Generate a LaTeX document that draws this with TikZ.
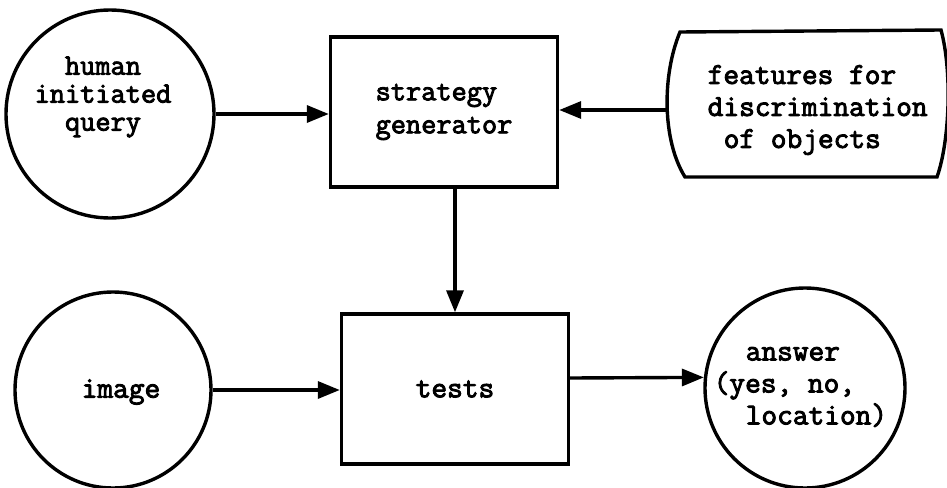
\documentclass[tikz,border=0pt]{standalone}
\usepackage{fontspec}
\newfontfamily\typew{Latin Modern Mono}[FakeBold=3]
\usetikzlibrary{arrows.meta}
\begin{document}
\begin{tikzpicture}[x=1pt,y=-1pt,
  line width=3.4pt,
  txt/.style={font=\fontsize{30.5}{32}\selectfont\typew, inner sep=0pt},
  circ/.style={draw, circle, inner sep=0pt},
  box/.style={draw, rectangle, inner sep=0pt, minimum width=227pt, minimum height=150pt},
  flow/.style={-{Triangle[length=22pt,width=17pt]}}]
\useasboundingbox (0,0) rectangle (947,487);

% sources, processes and result
\node[circ, minimum size=208pt] (hq) at (110,114) {};
\node[txt, align=center, font=\fontsize{29.5}{28}\selectfont\typew] (hqtxt) at (103,97) {human\\initiated\\query};

\node[box, txt, align=left, font=\fontsize{29.5}{33}\selectfont\typew] (sg) at (444,112) {strategy\\generator};

% feature store with bulging sides
\draw (680,32) -- (941,30)
      .. controls (952,70) and (950,140) .. (937,177)
      -- (685,177)
      .. controls (662,140) and (662,75) .. cycle;
\coordinate (featL) at (666,110);
\node[txt, align=left, anchor=west] (feat) at (706,110) {features for\\discrimination\\\hspace{0.525em}of objects};

\node[circ, minimum size=196pt] (img) at (113,390) {};
\node[txt] (imgtxt) at (121,392) {image};

\node[box, txt] (tests) at (455,389) {tests};

\node[circ, minimum size=200pt] (ans) at (805,388) {};
\node[txt, align=left, anchor=west] (anstxt) at (712,387) {\hspace{1.05em}answer\\(yes, no,\\\hspace{1.05em}location)};

% connectors
\draw[flow] (hq.east) -- (hq.east -| sg.west);
\draw[flow] (featL) -- (featL -| sg.east);
\draw[flow] (tests.north |- sg.south) -- (tests.north);
\draw[flow] (img.east) -- (img.east -| tests.west);
\draw[flow] ([yshift=11pt]tests.east) -- (ans.174);
\end{tikzpicture}
\end{document}
